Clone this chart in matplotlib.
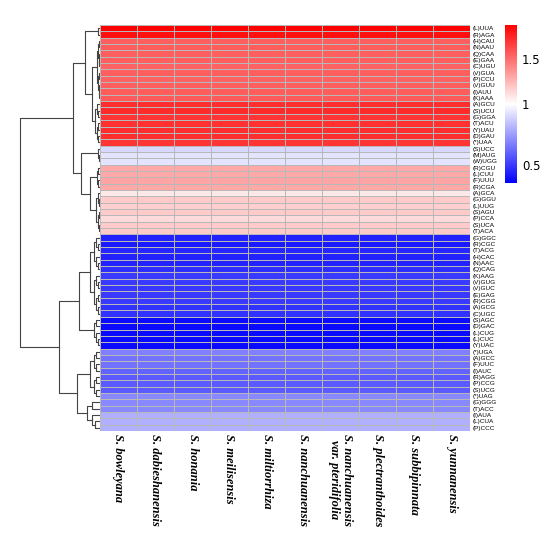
import numpy as np
import matplotlib
matplotlib.use("Agg")
import matplotlib.pyplot as plt
from matplotlib.colors import LinearSegmentedColormap, TwoSlopeNorm

codons = ["(L)UUA", "(R)AGA", "(H)CAU", "(N)AAU", "(Q)CAA", "(E)GAA", "(C)UGU", "(V)GUA",
          "(P)CCU", "(V)GUU", "(I)AUU", "(K)AAA", "(A)GCU", "(S)UCU", "(G)GGA", "(T)ACU",
          "(Y)UAU", "(D)GAU", "(*)UAA", "(S)UCC", "(M)AUG", "(W)UGG", "(R)CGU", "(L)CUU",
          "(F)UUU", "(R)CGA", "(A)GCA", "(G)GGU", "(L)UUG", "(S)AGU", "(P)CCA", "(S)UCA",
          "(T)ACA", "(G)GGC", "(R)CGC", "(T)ACG", "(H)CAC", "(N)AAC", "(Q)CAG", "(K)AAG",
          "(V)GUG", "(V)GUC", "(E)GAG", "(R)CGG", "(A)GCG", "(C)UGC", "(S)AGC", "(D)GAC",
          "(L)CUG", "(L)CUC", "(Y)UAC", "(*)UGA", "(A)GCC", "(F)UUC", "(I)AUC", "(R)AGG",
          "(P)CCG", "(S)UCG", "(*)UAG", "(G)GGG", "(T)ACC", "(I)AUA", "(L)CUA", "(P)CCC"]

rscu = [1.88, 1.82, 1.55, 1.56, 1.55, 1.55, 1.54, 1.55, 1.54, 1.55, 1.56, 1.57,
        1.72, 1.73, 1.70, 1.71, 1.72, 1.72, 1.70, 0.90, 0.93, 0.93, 1.30, 1.30,
        1.31, 1.30, 1.08, 1.18, 1.17, 1.18, 1.13, 1.18, 1.18, 0.44, 0.42, 0.45,
        0.44, 0.44, 0.47, 0.50, 0.50, 0.49, 0.50, 0.50, 0.48, 0.48, 0.38, 0.38,
        0.38, 0.38, 0.38, 0.68, 0.64, 0.64, 0.60, 0.58, 0.58, 0.58, 0.70, 0.70,
        0.70, 0.80, 0.80, 0.80]

species = ["S. bowleyana", "S. dabieshanensis", "S. honania", "S. meilisensis",
           "S. miltiorrhiza", "S. nanchuanensis", "S. nanchuanensis\nvar. pteridifolia",
           "S. plectranthoides", "S. subbipinnata", "S. yunnanensis"]

# (height, left, right); leaves are row indices; heights in pixel-ish units
def comb(a, b, h):
    # small sub-cluster built over a contiguous range of rows
    if b - a == 1:
        return a
    m = (a + b) // 2
    return (h, comb(a, m, h * 0.6), comb(m, b, h * 0.6))

tree = (80,
        (27,
         (15, comb(0, 2, 2), (8, comb(2, 12, 3), comb(12, 19, 5))),
         (19, comb(19, 22, 2), (10, comb(22, 26, 3), comb(26, 33, 4)))),
        (41,
         (21, comb(33, 46, 10), comb(46, 51, 6)),
         (23, comb(51, 59, 10), comb(59, 64, 13))))

data = np.tile(np.array(rscu)[:, None], (1, len(species)))

W, H = 550, 543
fig = plt.figure(figsize=(W / 100, H / 100), dpi=100)
hx0, hx1, hy0, hy1 = 100, 470, 25, 431
ax = fig.add_axes([hx0 / W, 1 - hy1 / H, (hx1 - hx0) / W, (hy1 - hy0) / H])
cmap = LinearSegmentedColormap.from_list("bwr2", ["#0000ff", "#ffffff", "#ff0000"])
norm = TwoSlopeNorm(vmin=0.35, vcenter=1.0, vmax=1.88)
mesh = ax.pcolormesh(data, cmap=cmap, norm=norm, edgecolors="#b8b8b8", linewidth=0.5)
ax.set_xlim(0, len(species))
ax.set_ylim(len(codons), 0)
ax.yaxis.tick_right()
ax.set_yticks(np.arange(len(codons)) + 0.5)
ax.set_yticklabels(codons, fontsize=4.6, family="Liberation Sans")
ax.set_xticks(np.arange(len(species)) + 0.5)
ax.set_xticklabels(species, rotation=-90, va="top", ha="center", fontsize=9,
                   family="Liberation Serif", style="italic", weight="bold")
ax.tick_params(length=0, pad=2)
for s in ax.spines.values():
    s.set_visible(False)

# dendrogram
dax = fig.add_axes([15 / W, 1 - hy1 / H, (hx0 - 15) / W, (hy1 - hy0) / H])
dax.set_xlim(85, 0)
dax.set_ylim(len(codons), 0)
dax.axis("off")

def draw(node):
    if isinstance(node, int):
        return node + 0.5, 0
    h, l, r = node
    yl, hl = draw(l)
    yr, hr = draw(r)
    dax.plot([hl, h, h, hr], [yl, yl, yr, yr], color="#444444", lw=0.8)
    return (yl + yr) / 2, h

draw(tree)

cax = fig.add_axes([505 / W, 1 - 183 / H, 12 / W, 158 / H])
cb = fig.colorbar(mesh, cax=cax, ticks=[0.5, 1, 1.5])
cb.set_ticklabels(["0.5", "1", "1.5"])
cb.outline.set_visible(False)
cb.ax.tick_params(length=0, labelsize=8.5)

fig.savefig("out.png", dpi=100)
